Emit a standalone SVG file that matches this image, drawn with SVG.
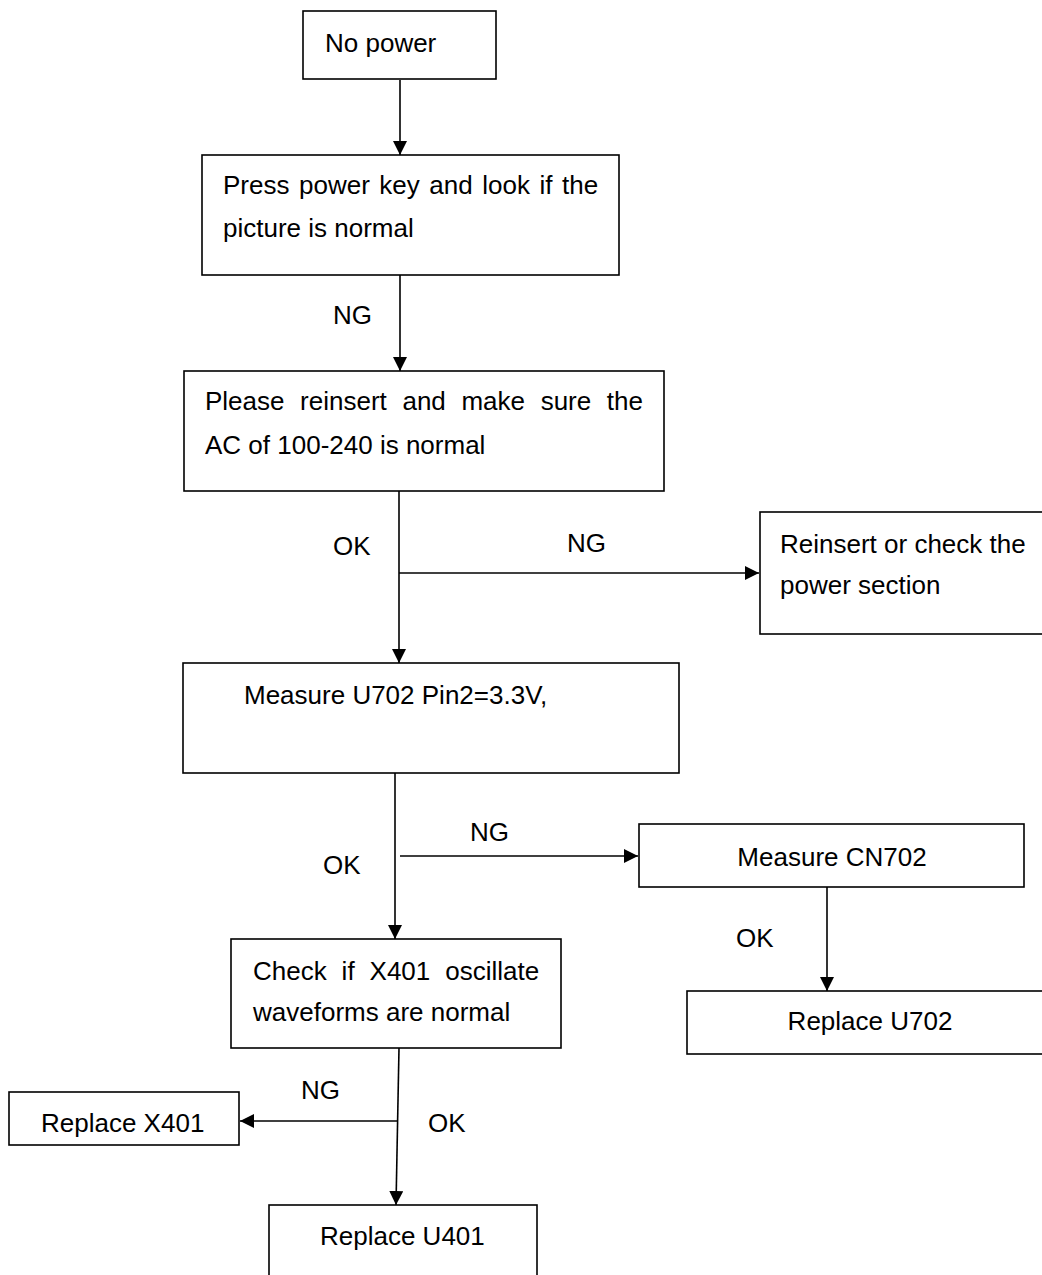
<svg xmlns="http://www.w3.org/2000/svg" width="1042" height="1275" viewBox="0 0 1042 1275">
<style>
.box{fill:#fff;stroke:#000;stroke-width:1.6}
.t{font-family:"Liberation Sans",Arial,sans-serif;font-size:26px;fill:#000}
.c{fill:none;stroke:#000;stroke-width:1.6;marker-end:url(#ah)}
.m{text-anchor:middle}
</style>
<defs>
<marker id="ah" markerUnits="userSpaceOnUse" markerWidth="15" markerHeight="14" refX="14" refY="7" orient="auto">
<path d="M0,0 L14,7 L0,14 z" fill="#000"/>
</marker>
</defs>
<rect width="1042" height="1275" fill="#fff"/>
<g id="connectors">
<line class="c" x1="400" y1="80" x2="400" y2="155"/>
<line class="c" x1="400" y1="275" x2="400" y2="371"/>
<line class="c" x1="399" y1="491" x2="399" y2="663"/>
<line class="c" x1="399" y1="573" x2="759" y2="573"/>
<line class="c" x1="395" y1="773" x2="395" y2="939"/>
<line class="c" x1="400" y1="856" x2="638" y2="856"/>
<line class="c" x1="827" y1="887" x2="827" y2="991"/>
<line class="c" x1="399" y1="1048" x2="396" y2="1205"/>
<line class="c" x1="398" y1="1121" x2="240" y2="1121"/>
<text class="t" x="333" y="324">NG</text>
<text class="t" x="333" y="555">OK</text>
<text class="t" x="567" y="552">NG</text>
<text class="t" x="470" y="841">NG</text>
<text class="t" x="323" y="874">OK</text>
<text class="t" x="736" y="947">OK</text>
<text class="t" x="301" y="1099">NG</text>
<text class="t" x="428" y="1132">OK</text>
</g>
<g id="n1"><rect class="box" x="303" y="11" width="193" height="68"/><text class="t" x="325" y="52">No power</text></g>
<g id="n2"><rect class="box" x="202" y="155" width="417" height="120"/><text class="t" x="223" y="194" word-spacing="2.3">Press power key and look if the</text><text class="t" x="223" y="237">picture is normal</text></g>
<g id="n3"><rect class="box" x="184" y="371" width="480" height="120"/><text class="t" x="205" y="410" word-spacing="8.4">Please reinsert and make sure the</text><text class="t" x="205" y="454">AC of 100-240 is normal</text></g>
<g id="n4"><rect class="box" x="760" y="512" width="300" height="122"/><text class="t" x="780" y="553">Reinsert or check the</text><text class="t" x="780" y="594">power section</text></g>
<g id="n5"><rect class="box" x="183" y="663" width="496" height="110"/><text class="t" x="244" y="704">Measure U702 Pin2=3.3V,</text></g>
<g id="n6"><rect class="box" x="639" y="824" width="385" height="63"/><text class="t m" x="832" y="866">Measure CN702</text></g>
<g id="n7"><rect class="box" x="687" y="991" width="380" height="63"/><text class="t m" x="870" y="1030">Replace U702</text></g>
<g id="n8"><rect class="box" x="231" y="939" width="330" height="109"/><text class="t" x="253" y="980" word-spacing="7.7">Check if X401 oscillate</text><text class="t" x="253" y="1021">waveforms are normal</text></g>
<g id="n9"><rect class="box" x="9" y="1092" width="230" height="53"/><text class="t" x="41" y="1132">Replace X401</text></g>
<g id="n10"><rect class="box" x="269" y="1205" width="268" height="100"/><text class="t" x="320" y="1245">Replace U401</text></g>
</svg>
